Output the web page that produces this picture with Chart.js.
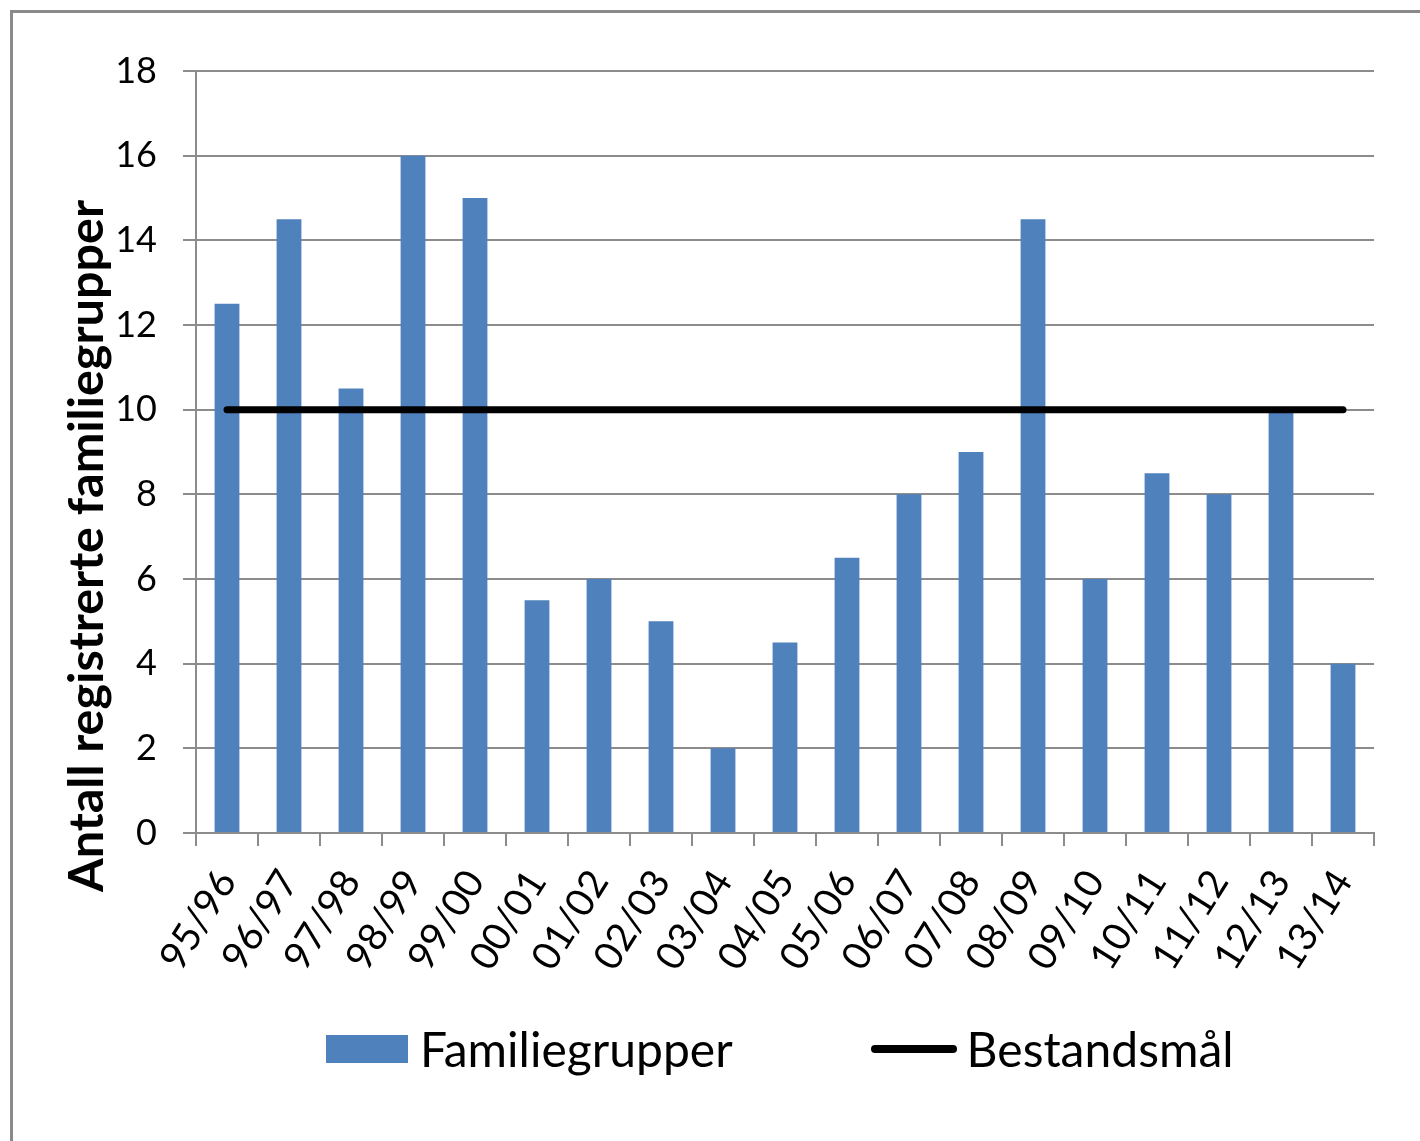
<!DOCTYPE html>
<html>
<head>
<meta charset="utf-8">
<script src="https://cdn.jsdelivr.net/npm/chart.js@4/dist/chart.umd.min.js"></script>
<style>
  body { margin: 0; background: #fff; }
  #wrap { position: relative; width: 1420px; height: 1141px; overflow: hidden; }
  #ramme { position: absolute; left: 10px; top: 10px; width: 1420px; height: 1141px;
           border-left: 3px solid #8a8a8a; border-top: 3px solid #8a8a8a; }
  canvas { position: absolute; left: 0; top: 0; }
  #ytittel { position: absolute; left: 84px; top: 546px; transform: translate(-50%, -50%) rotate(-90deg);
             white-space: nowrap; font-family: Lato, sans-serif; font-weight: bold; font-size: 48.5px;
             line-height: 1; color: #000; }
  #legende { position: absolute; left: 326px; top: 1020px; display: flex; align-items: center;
             font-family: Lato, sans-serif; font-size: 48px; color: #000; }
  .item { display: flex; align-items: center; }
  .boks { width: 82px; height: 28px; background: #4F81BD; margin-right: 12px; }
  .strek { width: 86px; height: 8px; background: #000; border-radius: 4px; margin-right: 10px; }
</style>
</head>
<body>
<div id="wrap">
  <canvas id="graf" width="1420" height="1141"></canvas>
  <div id="ramme"></div>
  <div id="ytittel"></div>
  <div id="legende"></div>
</div>
<script>
let sesonger = ["95/96", "96/97", "97/98", "98/99", "99/00", "00/01", "01/02", "02/03", "03/04", "04/05",
                "05/06", "06/07", "07/08", "08/09", "09/10", "10/11", "11/12", "12/13", "13/14"];
let familiegrupper = [12.5, 14.5, 10.5, 16, 15, 5.5, 6, 5, 2, 4.5, 6.5, 8, 9, 14.5, 6, 8.5, 8, 10, 4];
let bestandsmaal = [10, 10, 10, 10, 10, 10, 10, 10, 10, 10, 10, 10, 10, 10, 10, 10, 10, 10, 10];
let serieNavn = ["Familiegrupper", "Bestandsmål"];
let yTittel = "Antall registrerte familiegrupper";

let gridFarge = "#8c8c8c";

// aksetittel og legende som vanlig tekst over canvas
document.getElementById("ytittel").innerText = yTittel;
let leg = document.getElementById("legende");
leg.innerHTML = `<div class="item" style="margin-right:138px"><div class="boks"></div>${serieNavn[0]}</div>
                 <div class="item"><div class="strek"></div>${serieNavn[1]}</div>`;

let ctx = document.getElementById("graf").getContext("2d");
new Chart(ctx, {
    type: "bar",
    data: {
        labels: sesonger,
        datasets: [{
            type: "line",
            label: serieNavn[1],
            data: bestandsmaal,
            borderColor: "#000",
            borderWidth: 7,
            borderCapStyle: "round",
            pointRadius: 0,
            fill: false,
            order: 1
        }, {
            label: serieNavn[0],
            data: familiegrupper,
            backgroundColor: "#4F81BD",
            categoryPercentage: 1,
            barPercentage: 0.4,
            order: 2
        }]
    },
    options: {
        responsive: false,
        animation: false,
        devicePixelRatio: 1,
        layout: { padding: { left: 60, top: 71, right: 46, bottom: 158 } },
        plugins: {
            legend: { display: false },
            tooltip: { enabled: false }
        },
        scales: {
            x: {
                grid: { drawOnChartArea: false, offset: true, tickLength: 13, color: gridFarge, lineWidth: 2 },
                border: { color: gridFarge, width: 2 },
                ticks: {
                    color: "#000",
                    font: { family: "Lato", size: 39 },
                    minRotation: 58,
                    maxRotation: 58,
                    padding: 16
                },
                afterFit: s => { s.height = 150; }
            },
            y: {
                min: 0,
                max: 18,
                ticks: {
                    stepSize: 2,
                    color: "#000",
                    font: { family: "Lato", size: 36 },
                    padding: 26
                },
                grid: { tickLength: 13, color: gridFarge, lineWidth: 2 },
                border: { color: gridFarge, width: 2 },
                afterFit: s => { s.width = 136; }
            }
        }
    }
});
</script>
</body>
</html>
